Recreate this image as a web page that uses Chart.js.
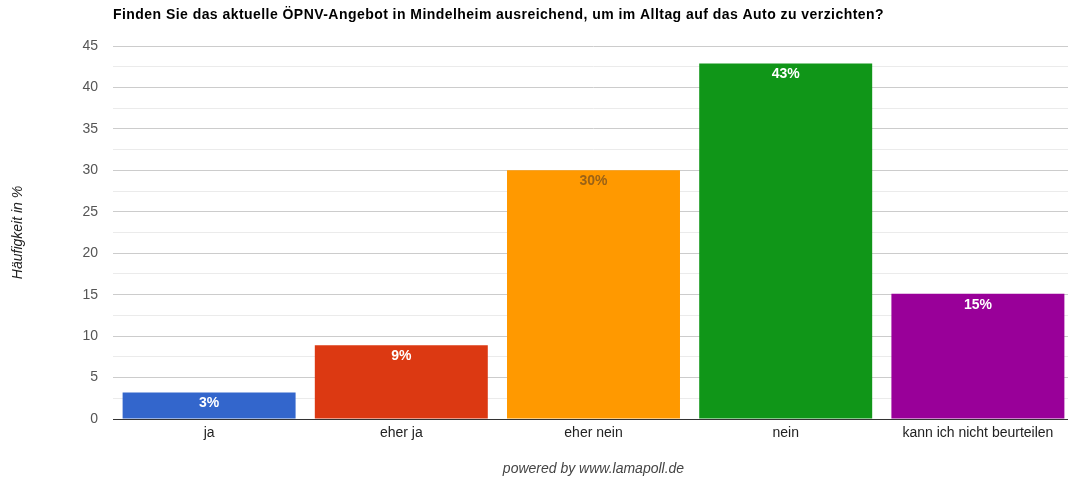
<!DOCTYPE html>
<html>
<head>
<meta charset="utf-8">
<script src="https://cdn.jsdelivr.net/npm/chart.js@4"></script>
<style>
  html, body { margin: 0; padding: 0; background: #fff; overflow: hidden; }
  #wrap { width: 1074px; height: 483px; position: relative; }
</style>
</head>
<body>
<div id="wrap"><canvas id="surveyChart"></canvas></div>
<script>
const categories = ['ja', 'eher ja', 'eher nein', 'nein', 'kann ich nicht beurteilen'];
const values = [3.2, 8.9, 30.0, 42.9, 15.1];
const valueLabels = ['3%', '9%', '30%', '43%', '15%'];
const barColors = ['#3366cc', '#dc3912', '#ff9900', '#109618', '#990099'];
const labelColors = ['#ffffff', '#ffffff', '#9a6216', '#ffffff', '#ffffff'];
const chartTitle = 'Finden Sie das aktuelle ÖPNV-Angebot in Mindelheim ausreichend, um im Alltag auf das Auto zu verzichten?';

const FONT = '"Liberation Sans", Arial, sans-serif';

// title drawn at the left edge of the plot area
const titlePlugin = {
    id: 'leftTitle',
    afterDraw(chart) {
        const ctx = chart.ctx;
        ctx.save();
        ctx.font = 'bold 14px ' + FONT;
        ctx.letterSpacing = '0.45px';
        ctx.fillStyle = '#000';
        ctx.textAlign = 'left';
        ctx.textBaseline = 'middle';
        ctx.fillText(chartTitle, chart.chartArea.left, 15);
        ctx.restore();
    }
};

// percent labels inside the top of each bar
const barLabelPlugin = {
    id: 'barLabels',
    afterDatasetsDraw(chart) {
        const ctx = chart.ctx;
        const meta = chart.getDatasetMeta(0);
        ctx.save();
        ctx.font = 'bold 14px ' + FONT;
        ctx.textAlign = 'center';
        ctx.textBaseline = 'middle';
        meta.data.forEach(function(bar, i) {
            ctx.fillStyle = labelColors[i];
            ctx.fillText(valueLabels[i], bar.x, bar.y + 11);
        });
        ctx.restore();
    }
};

new Chart(document.getElementById('surveyChart'), {
    type: 'bar',
    data: {
        labels: categories,
        datasets: [{
            data: values,
            backgroundColor: barColors,
            borderWidth: 0,
            barPercentage: 0.9,
            categoryPercentage: 1.0
        }]
    },
    options: {
        responsive: true,
        maintainAspectRatio: false,
        animation: false,
        devicePixelRatio: 1,
        layout: { padding: { top: 46, right: 0, bottom: 0, left: 0 } },
        plugins: {
            legend: { display: false },
            tooltip: { enabled: false }
        },
        scales: {
            x: {
                grid: { display: false, drawTicks: false },
                border: { display: true, color: '#333', width: 1 },
                ticks: { color: '#222', font: { family: FONT, size: 14 }, padding: 6 },
                title: {
                    display: true,
                    text: 'powered by www.lamapoll.de',
                    color: '#444',
                    font: { family: FONT, size: 14, style: 'italic' },
                    padding: { top: 20, bottom: 5 }
                },
                afterFit(scale) { scale.height = 64; }
            },
            y: {
                min: 0,
                max: 45,
                border: { display: false },
                grid: {
                    drawTicks: false,
                    color(c) {
                        const v = c.tick.value;
                        if (v === 0) return '#333';
                        return v % 5 === 0 ? '#cccccc' : '#ebebeb';
                    }
                },
                ticks: {
                    stepSize: 2.5,
                    padding: 15,
                    color: '#555',
                    font: { family: FONT, size: 14 },
                    callback(v) { return v % 5 === 0 ? v : ''; }
                },
                title: {
                    display: true,
                    text: 'Häufigkeit in %',
                    color: '#222',
                    font: { family: FONT, size: 14, style: 'italic' },
                    padding: { top: 10, bottom: 0 }
                },
                afterFit(scale) { scale.width = 113; }
            }
        }
    },
    plugins: [titlePlugin, barLabelPlugin]
});
</script>
</body>
</html>
